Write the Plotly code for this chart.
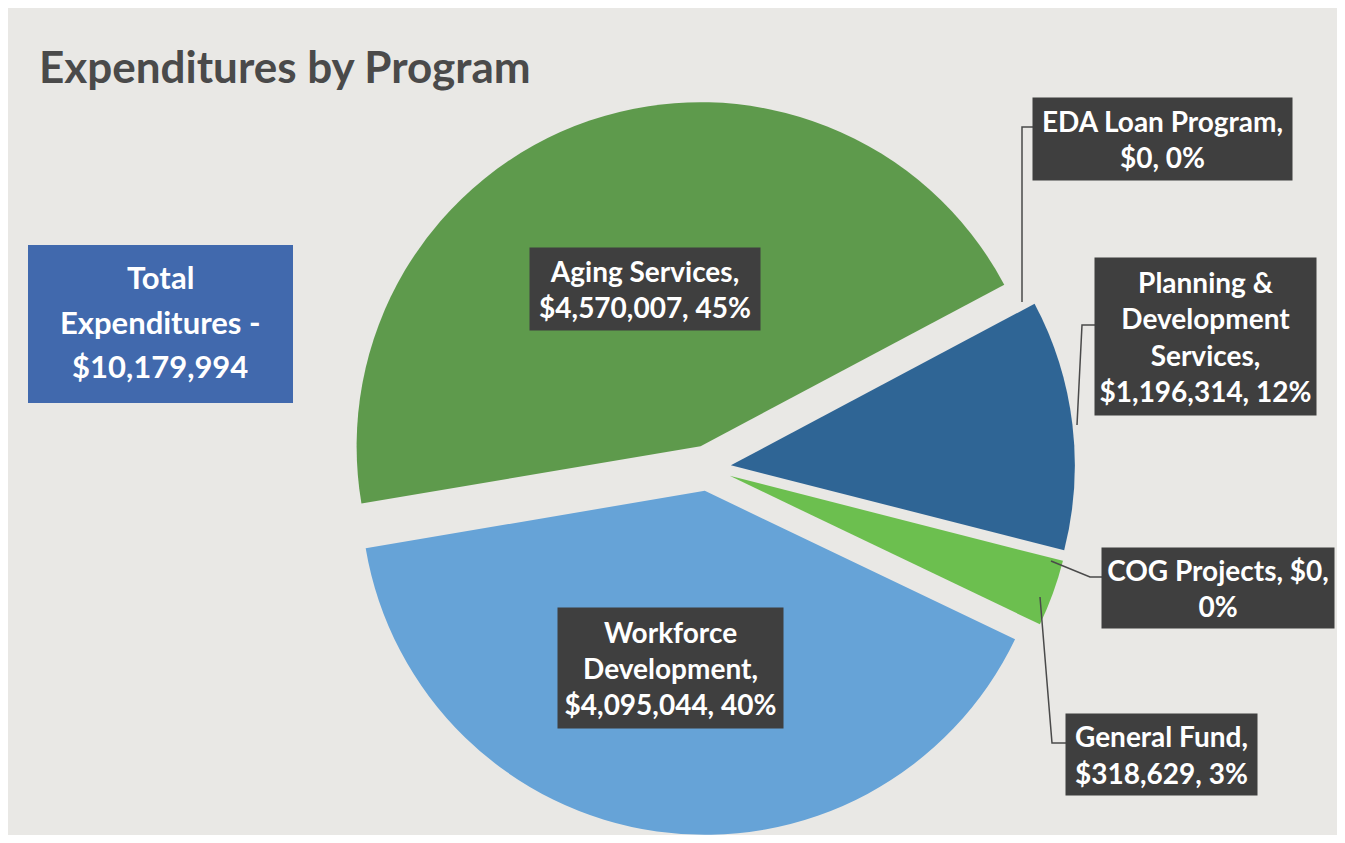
import plotly.graph_objects as go

# ---------------- data ----------------
programs = ["EDA Loan Program", "Planning & Development Services", "COG Projects",
            "General Fund", "Workforce Development", "Aging Services"]
expenditures = [0, 1196314, 0, 318629, 4095044, 4570007]
slice_colors = ["#7f7f7f", "#2f6595", "#8fbf5a", "#6cbf4f", "#66a3d7", "#5e9a4c"]
# how each callout label breaks into lines
name_lines = ["EDA Loan Program", "Planning &<br>Development<br>Services", "COG Projects",
              "General Fund", "Workforce<br>Development", "Aging Services"]
sep_after_name = [",<br>", ",<br>", ", ", ",<br>", ",<br>", ",<br>"]
sep_before_pct = [", ", ", ", ",<br>", ", ", ", ", ", "]
title_text = "Expenditures by Program"

total = sum(expenditures)
PAGE_MARGIN = 8           # default body margin of the html page
W, H = 1345 - 2 * PAGE_MARGIN, 843 - 2 * PAGE_MARGIN


def px(x):
    # screen pixel -> paper fraction
    return (x - PAGE_MARGIN) / W


def py(y):
    return 1 - (y - PAGE_MARGIN) / H


fig = go.Figure()
fig.add_trace(go.Pie(
    labels=programs,
    values=expenditures,
    sort=False,
    direction="clockwise",
    rotation=62,
    pull=[0.067] * len(programs),
    marker=dict(colors=slice_colors, line=dict(width=0)),
    textinfo="none",
    hoverinfo="label+value+percent",
    showlegend=False,
    domain=dict(x=[px(341), px(1075)], y=[py(835), py(101)]),
))

# callout label boxes (layout positions, screen pixels)
boxes = {
    "Aging Services": (530, 248, 760, 330),
    "Workforce Development": (558, 608, 783, 728),
    "EDA Loan Program": (1033, 98, 1292, 180),
    "Planning & Development Services": (1095, 258, 1316, 415),
    "COG Projects": (1102, 548, 1334, 628),
    "General Fund": (1066, 714, 1257, 795),
}
label_font = dict(family="Lato, Open Sans, sans-serif", size=28, color="white")
annotations = []
for i, p in enumerate(programs):
    v = expenditures[i]
    pct = round(v / total * 100)
    txt = f"<b>{name_lines[i]}{sep_after_name[i]}${v:,}{sep_before_pct[i]}{pct}%</b>"
    x0, y0, x1, y1 = boxes[p]
    annotations.append(dict(
        x=px((x0 + x1) / 2), y=py((y0 + y1) / 2), xref="paper", yref="paper",
        xanchor="center", yanchor="middle", showarrow=False,
        text=txt, font=label_font, align="center",
        bgcolor="#3f3f3f", borderpad=0,
        width=x1 - x0, height=y1 - y0,
    ))

# title
annotations.append(dict(
    x=px(37), y=py(66), xref="paper", yref="paper", xanchor="left", yanchor="middle",
    showarrow=False, text=f"<b>{title_text}</b>",
    font=dict(family="Lato, Open Sans, sans-serif", size=44, color="#4a4a4a"),
))

# total box text
total_lines = ["Total", "Expenditures -", f"${total:,}"]
for yy, line in zip([277, 322, 366], total_lines):
    annotations.append(dict(
        x=px(160), y=py(yy), xref="paper", yref="paper", xanchor="center", yanchor="middle",
        showarrow=False, text=f"<b>{line}</b>",
        font=dict(family="Lato, Open Sans, sans-serif", size=31, color="white"),
    ))

line_style = dict(color="#4a4a4a", width=1.5)


def path(points):
    s = "M " + " L ".join(f"{px(x)},{py(y)}" for x, y in points)
    return dict(type="path", path=s, xref="paper", yref="paper", line=line_style)


shapes = [
    dict(type="rect", xref="paper", yref="paper", x0=px(28), x1=px(293), y0=py(403), y1=py(245),
         fillcolor="#4169ad", line=dict(width=0), layer="below"),
    path([(1033, 127), (1022, 127), (1022, 302)]),
    path([(1095, 325), (1082, 325), (1077, 425)]),
    path([(1051, 561), (1090, 577), (1102, 577)]),
    path([(1040, 597), (1052, 743), (1066, 743)]),
]

fig.update_layout(
    width=W, height=H,
    margin=dict(l=0, r=0, t=0, b=0),
    paper_bgcolor="#e9e8e5",
    plot_bgcolor="#e9e8e5",
    annotations=annotations,
    shapes=shapes,
)

fig.write_html("out.html")
